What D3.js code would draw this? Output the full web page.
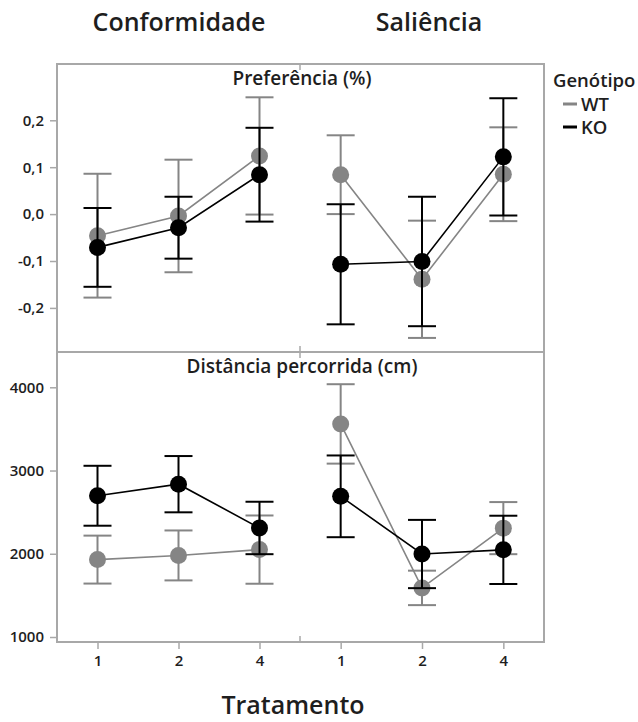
<!DOCTYPE html>
<html>
<head>
<meta charset="utf-8">
<script src="https://cdn.jsdelivr.net/npm/d3@7"></script>
<style>
  html, body { margin: 0; padding: 0; background: #fff; }
  svg { display: block; font-family: "Open Sans", "Noto Sans", sans-serif; }
</style>
</head>
<body>
<svg id="chart" width="638" height="722"></svg>
<script>
// Treatment levels and the two protocol columns
const treatments = ["1", "2", "4"];
const protocols = ["Conformidade", "Saliência"];
const genotypes = ["WT", "KO"];

// Preferência (%) — means and error half-widths, per protocol, treatments 1/2/4
const prefWT_conf = [-0.046, -0.004, 0.124];
const prefWT_confErr = [0.132, 0.120, 0.125];
const prefKO_conf = [-0.071, -0.029, 0.084];
const prefKO_confErr = [0.084, 0.066, 0.100];
const prefWT_sal = [0.084, -0.139, 0.085];
const prefWT_salErr = [0.084, 0.125, 0.100];
const prefKO_sal = [-0.107, -0.101, 0.122];
const prefKO_salErr = [0.128, 0.138, 0.125];

// Distância percorrida (cm)
const distWT_conf = [1930, 1980, 2050];
const distWT_confErr = [288, 300, 410];
const distKO_conf = [2697, 2836, 2310];
const distKO_confErr = [360, 338, 315];
const distWT_sal = [3560, 1590, 2308];
const distWT_salErr = [477, 207, 313];
const distKO_sal = [2690, 1997, 2047];
const distKO_salErr = [491, 410, 410];

// Axis ticks
const prefTicks = [-0.2, -0.1, 0.0, 0.1, 0.2];
const distTicks = [1000, 2000, 3000, 4000];

const svg = d3.select("#chart");
const colors = { WT: "#858585", KO: "#000000" };
const frameColor = "#a8a8a8";
const textColor = "#1e1e1e";

const L = 57, R = 544, T = 64, M = 352, B = 642, C = 300;

const xCols = [
  d3.scalePoint().domain(treatments).range([L, C]).padding(0.5),
  d3.scalePoint().domain(treatments).range([C, R]).padding(0.5)
];

const locale = d3.formatLocale({ decimal: ",", thousands: "", grouping: [3], currency: ["", ""], minus: "-" });
const fmt1 = locale.format(".1f");
const fmt0 = locale.format("d");

const rows = [
  {
    title: "Preferência (%)",
    y: d3.scaleLinear().domain([-0.294, 0.320]).range([M, T]),
    ticks: prefTicks, fmt: fmt1, top: T, bottom: M,
    series: [
      [ { g: "WT", v: prefWT_conf, e: prefWT_confErr }, { g: "KO", v: prefKO_conf, e: prefKO_confErr } ],
      [ { g: "WT", v: prefWT_sal, e: prefWT_salErr }, { g: "KO", v: prefKO_sal, e: prefKO_salErr } ]
    ]
  },
  {
    title: "Distância percorrida (cm)",
    y: d3.scaleLinear().domain([940, 4424]).range([B, M]),
    ticks: distTicks, fmt: fmt0, top: M, bottom: B,
    series: [
      [ { g: "WT", v: distWT_conf, e: distWT_confErr }, { g: "KO", v: distKO_conf, e: distKO_confErr } ],
      [ { g: "WT", v: distWT_sal, e: distWT_salErr }, { g: "KO", v: distKO_sal, e: distKO_salErr } ]
    ]
  }
];

// Column headers
const headerX = [179, 429];
protocols.forEach((p, i) => {
  svg.append("text")
    .attr("x", headerX[i])
    .attr("y", 31)
    .attr("text-anchor", "middle")
    .attr("font-size", 25)
    .attr("font-weight", 600)
    .attr("fill", textColor)
    .text(p);
});

rows.forEach(row => {
  // y axis on the left frame edge
  const ax = svg.append("g")
    .attr("transform", `translate(${L},0)`)
    .call(d3.axisLeft(row.y).tickValues(row.ticks).tickFormat(row.fmt).tickSize(7).tickPadding(6));
  ax.select(".domain").remove();
  ax.selectAll(".tick line").attr("stroke", frameColor).attr("stroke-width", 1.5);
  ax.selectAll(".tick text")
    .attr("font-family", "Open Sans, sans-serif")
    .attr("font-size", 15)
    .attr("font-weight", 600)
    .attr("fill", textColor);

  // row title
  svg.append("text")
    .attr("x", 302)
    .attr("y", row.top + 21)
    .attr("text-anchor", "middle")
    .attr("font-size", 19)
    .attr("font-weight", 600)
    .attr("fill", textColor)
    .text(row.title);

  row.series.forEach((colSeries, ci) => {
    const x = xCols[ci];
    colSeries.forEach(s => {
      const pts = treatments.map((t, k) => ({ t, v: s.v[k], e: s.e[k] }));
      const g = svg.append("g");
      const col = colors[s.g];
      // error bars
      const eb = g.selectAll(".eb").data(pts).enter().append("g");
      eb.append("line")
        .attr("x1", d => x(d.t)).attr("x2", d => x(d.t))
        .attr("y1", d => row.y(d.v - d.e)).attr("y2", d => row.y(d.v + d.e))
        .attr("stroke", col).attr("stroke-width", 2);
      [-1, 1].forEach(sign => {
        eb.append("line")
          .attr("x1", d => x(d.t) - 14).attr("x2", d => x(d.t) + 14)
          .attr("y1", d => row.y(d.v + sign * d.e)).attr("y2", d => row.y(d.v + sign * d.e))
          .attr("stroke", col).attr("stroke-width", 2);
      });
      // connecting line
      g.append("path")
        .datum(pts)
        .attr("fill", "none")
        .attr("stroke", col)
        .attr("stroke-width", 1.6)
        .attr("d", d3.line().x(d => x(d.t)).y(d => row.y(d.v)));
      // markers
      g.selectAll("circle").data(pts).enter().append("circle")
        .attr("cx", d => x(d.t)).attr("cy", d => row.y(d.v))
        .attr("r", 8.5)
        .attr("fill", col);
    });
  });

  // column separator ticks on the row borders
  svg.append("line").attr("x1", C).attr("x2", C).attr("y1", row.top).attr("y2", row.top + 6)
    .attr("stroke", frameColor).attr("stroke-width", 1.5);
  svg.append("line").attr("x1", C).attr("x2", C).attr("y1", row.bottom - 6).attr("y2", row.bottom)
    .attr("stroke", frameColor).attr("stroke-width", 1.5);
});

// frame
svg.append("rect")
  .attr("x", L).attr("y", T).attr("width", R - L).attr("height", B - T)
  .attr("fill", "none").attr("stroke", frameColor).attr("stroke-width", 2);
svg.append("line")
  .attr("x1", L).attr("x2", R).attr("y1", M).attr("y2", M)
  .attr("stroke", frameColor).attr("stroke-width", 2);

// x axes along the bottom
xCols.forEach(x => {
  const ax = svg.append("g")
    .attr("transform", `translate(0,${B})`)
    .call(d3.axisBottom(x).tickSize(7).tickPadding(6).tickSizeOuter(0));
  ax.select(".domain").remove();
  ax.selectAll(".tick line").attr("stroke", frameColor).attr("stroke-width", 1.5);
  ax.selectAll(".tick text")
    .attr("font-family", "Open Sans, sans-serif")
    .attr("font-size", 15)
    .attr("font-weight", 600)
    .attr("fill", textColor);
});

// x axis title
svg.append("text")
  .attr("x", 293)
  .attr("y", 714)
  .attr("text-anchor", "middle")
  .attr("font-size", 25)
  .attr("font-weight", 600)
  .attr("fill", textColor)
  .text("Tratamento");

// legend
const lg = svg.append("g").attr("transform", "translate(553,0)");
lg.append("text").attr("x", 0).attr("y", 87)
  .attr("font-size", 18.5).attr("font-weight", 600).attr("fill", textColor).text("Genótipo");
genotypes.forEach((g, i) => {
  const yy = 104 + i * 23;
  lg.append("line").attr("x1", 10).attr("x2", 24).attr("y1", yy).attr("y2", yy)
    .attr("stroke", colors[g]).attr("stroke-width", 3);
  lg.append("text").attr("x", 28).attr("y", yy + 7)
    .attr("font-size", 18.5).attr("font-weight", 600).attr("fill", textColor).text(g);
});
</script>
</body>
</html>
